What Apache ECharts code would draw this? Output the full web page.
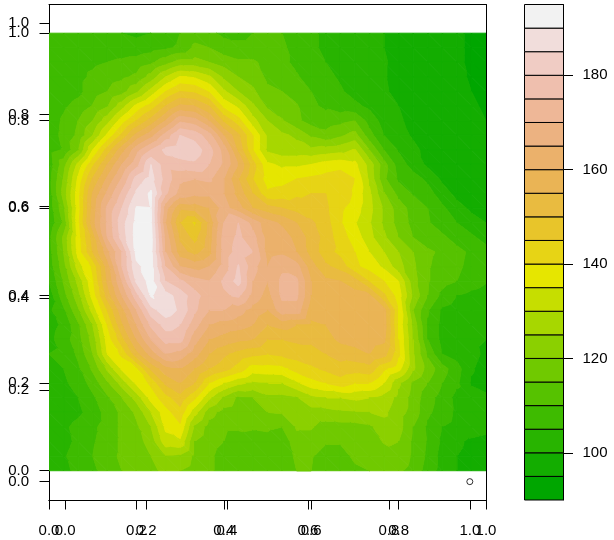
<!DOCTYPE html>
<html>
<head>
<meta charset="utf-8">
<style>html,body{margin:0;padding:0;background:#fff}#c{width:614px;height:540px}</style>
<script src="https://cdn.jsdelivr.net/npm/echarts@6/dist/echarts.min.js"></script>
</head>
<body>
<div id="c"></div>
<script>
// Height field: rows top (y=1) to bottom (y=0), columns x=0 to x=1.
const heightRows = [
[107,107,107,107,106,105,104,105,107,110,113,111,109,109,110,111,110,108,106,104,103,103,102,100,98,98,98,98,96,94,93],
[107,107,107,107,107,107,107,108,109,111,116,115,112,111,111,111,111,108,106,104,103,102,101,100,98,98,98,97,96,94,93],
[107,107,108,109,110,111,112,114,118,122,122,120,118,116,116,113,111,109,107,105,103.5,103,102,100.5,98.5,98,97,97,96,94,93],
[107,107,108.5,111,113,114,116,122,130,135.5,134.5,131,124,120,118,114,113,110.5,108,106,104.5,103,102,100.5,98,97,96.5,96,96,94.5,93],
[106.5,106.5,108.5,113,115,118,124,132,140,145,144,139.5,131,125,121,116,115,113,110,108,105.5,103.5,102.5,101,98,97,96.5,96,96,95,93.5],
[106,109,112,115.3,119.5,128,136.5,142,150,156,155,150,138.5,134,126,119,117.5,115.5,111,109,107,106,104,102,100,98.5,97.5,97,96.5,96,94],
[106.5,111,115,120,128,137.5,145,152,160,169,167,160,149,142,132,125,120.5,116,113,112.5,113.5,115,108,103,100.5,99,98,97,96.5,96,95],
[107,111.5,116,125,136,146,156.5,163,172,180,178,172,160,151,140,129,126,124,119,116.5,119,122,112,105,101.5,99.5,98.5,97.5,97,96.5,95.5],
[108,110.5,119.5,135,147,158,168,175,181.5,183,183,177,168,154,140,129,127,127,126,127,128,130.5,120,110,104.5,101,98.8,98,97.5,97,96],
[107,118,131.5,144,155,165,173,185,177,178,179,175,169,160,147,136,134,134,135,137,138,136.5,128,117,107.5,103,99,98,97.5,96.5,96],
[108,120.5,136,150.5,161,170.5,182,187,178,171,170,171,165,155,145,137.5,138,140,141,142,143,140,129,116,109,107,104,99,98,97,96.5],
[107.5,122,138,155.5,166,176,186,191,176,168,166,166,165,158,150,141,142,144,145,145,144,139,131,120.5,113.5,109.5,107,102.5,98.5,97,97],
[107,118.5,137.5,157,171,180,190.5,190.2,167,156,157,160,167,162,155,152,150,148,147,146,141,137.5,131.5,124,117.5,113,110,106,102,99,98],
[106,116,138.5,158,171,183,191.5,191,165,150,144,156,170,175,168,162,159,155,151,147,140.5,135.5,130.5,124,118,113.5,110.5,107.5,105,102,100],
[108.5,121,137.5,152,170,182,192,192,168,154,148,157,172,176,172,163,163,158,153,148,142,138,131.5,126,120,115,112,111,108,106,103],
[108,120,137,150,163,175,191.5,191.5,170,157,153,158,172,177,175,163,164,160,153,147,143.5,140,135,130,125,120,116,114,111.5,109,107],
[107,118,132.5,141,157,175,189,192,175,165,163,165,172,180.5,172,165,169,167,157,151,148,141,138,134,127,121,115.5,113,111,108.5,106.5],
[105,115.5,126.5,139,155.5,170,186,192,180,176,172,170,176,182,170,165,171,171,160,156,155,152,144.5,140,135,122,115.5,112,110,107.5,105.5],
[102,113,123,137,152,165,178,190.5,187,183,177,172,174,176,168,163,171,171,160,156,157,157,156,146,137.5,124,115,108.5,105,103.5,102.5],
[104,109,119,132,145,158,170,183,188,184,176,170,170,167,163,160,168,168,157,156,157,157,157,157,140,120,110.5,104,102.5,102,101.5],
[103,106,114,125,140,154,165,176,182,180,172,165,163,162,160,155,157,155,154,155,158,158,158,157.5,139,123.5,109.5,103.5,101.5,101,100.5],
[103.5,107.5,113,122,137,148,160,170,177,177,167,160,158,156,155,150,150,151,151,153,156,157,157,156,140,125,110,103.5,101.5,101,100],
[105,106,111,120,135,141,153,162,170,168,162,155,151,148,146,145,146,147,148,150,152,153,155,152,141,125.5,114,105,103,101.5,99],
[104,105,109,116,126,136,139,151,158,160,155,150,147,143,137.5,138,138.5,142,144,146,148,147,148,141,137,126,118,112,107,100.5,98],
[102.5,104,107,112,119,127,136,141,151,155,150,140,135,131,129,130,130,134,138,140,142.5,140,140,135,126,119,115,110,106,99.5,98],
[102,103,105,109,114,120,127,137,143,148,141,131,124,119,120,123.5,123.5,124.5,128.5,130,130,131,130,128,123.5,118,112,108,103.5,102,101],
[101,102,104,107,112,116,121,130,138,143,132,122,118,117,117,120,120.5,122,123,123,124,124.5,125,126,122,118,111,107.5,104,103,102],
[102,104,106.5,109,112,116,119,125,136,139,124,118,116,116,115.5,116,115,120.5,120.5,118,118,118,119,123,122,115,109,105,103.5,103,102],
[101.5,103.5,106,109.5,112,116,118,122,133,134,120,117,115,112,113,113,111,118.5,118,115.5,115.5,117,117,120.5,120,114,109.5,104,101,99,98],
[103,104.5,107,110,113,116,118,120,125,124,119,116,113,111,112,111,110,116.5,115.5,113,113,116,116,117,119,114,109,103,100,98.5,98],
[101.5,104,106,109,112,115,117,119,121,120,118,116,113,111,112,110,111,115,115,111,111,114,115,115.5,116,113,108,103,100,98.5,98]
];
const levels = [90,95,100,105,110,115,120,125,130,135,140,145,150,155,160,165,170,175,180,185,190,195];
const legendTicks = [100,120,140,160,180];
const xTicks = [0,0.2,0.4,0.6,0.8,1];
const yTicks = [0,0.2,0.4,0.6,0.8,1];
const pointX = [1];
const pointY = [0];

function hsv(h,s,v){
  const i=Math.floor(h*6)%6,f=h*6-Math.floor(h*6),p=v*(1-s),q=v*(1-f*s),t=v*(1-(1-f)*s);
  const c=[[v,t,p],[q,v,p],[p,v,t],[p,q,v],[t,p,v],[v,p,q]][i];
  return '#'+c.map(x=>Math.round(x*255).toString(16).padStart(2,'0')).join('');
}
// R terrain.colors(21)
function terrain(n){
  const k=Math.floor(n/2),out=[];
  for(let i=0;i<k;i++){const t=i/(k-1);out.push(hsv((4-2*t)/12,1,0.65+0.25*t));}
  const m=n-k+1;
  for(let i=1;i<m;i++){const t=i/(m-1);out.push(hsv((2-2*t)/12,1-t,0.9+0.05*t));}
  return out;
}
const bandColors = terrain(levels.length-1);

const nRows = heightRows.length, nCols = heightRows[0].length;
const cells = [];
for(let j=0;j<nRows-1;j++) for(let i=0;i<nCols-1;i++) cells.push([i,j]);

function clip(poly,lim,keepAbove){
  const out=[];
  for(let a=0;a<poly.length;a++){
    const p=poly[a],q=poly[(a+1)%poly.length];
    const pin=keepAbove?p[2]>=lim:p[2]<=lim, qin=keepAbove?q[2]>=lim:q[2]<=lim;
    if(pin) out.push(p);
    if(pin!==qin){
      const t=(lim-p[2])/(q[2]-p[2]);
      out.push([p[0]+t*(q[0]-p[0]),p[1]+t*(q[1]-p[1]),lim]);
    }
  }
  return out;
}
function renderCell(params,api){
  const i=api.value(0),j=api.value(1);
  const node=(a,b)=>[a/(nCols-1),1-b/(nRows-1),heightRows[b][a]];
  const A=node(i,j),B=node(i+1,j),C=node(i+1,j+1),D=node(i,j+1);
  const children=[];
  [[A,B,C],[A,C,D]].forEach(tri=>{
    const vs=tri.map(p=>p[2]);
    const lo=Math.min(...vs),hi=Math.max(...vs);
    for(let b=0;b<bandColors.length;b++){
      if(levels[b+1]<lo||levels[b]>hi) continue;
      let poly=clip(tri,levels[b],true);
      if(poly.length) poly=clip(poly,levels[b+1],false);
      if(poly.length<3) continue;
      children.push({type:'polygon',shape:{points:poly.map(p=>api.coord([p[0],p[1]]))},
        style:{fill:bandColors[b],stroke:bandColors[b],lineWidth:1,lineJoin:'bevel'}});
    }
  });
  return {type:'group',children};
}
function renderBand(params,api){
  const b=api.value(0);
  const p0=api.coord([0,levels[b+1]]),p1=api.coord([1,levels[b]]);
  return {type:'rect',shape:{x:p0[0],y:p0[1],width:p1[0]-p0[0],height:p1[1]-p0[1]},
    style:{fill:bandColors[b],stroke:'#000',lineWidth:1}};
}

const FONT={fontFamily:'"Liberation Sans",Arial,sans-serif',fontSize:15,color:'#000'};
const line={show:true,onZero:false,lineStyle:{color:'#000',width:1}};
const tick=(vals)=>({show:true,length:9.5,customValues:vals,lineStyle:{color:'#000',width:1}});
const xAx=(min,max)=>({type:'value',gridIndex:0,position:'bottom',min,max,axisLine:line,axisTick:tick(xTicks),
  axisLabel:{...FONT,margin:23,customValues:xTicks,formatter:v=>v.toFixed(1)},splitLine:{show:false}});
const yAx=(min,max)=>({type:'value',gridIndex:0,position:'left',min,max,axisLine:line,axisTick:tick(yTicks),
  axisLabel:{...FONT,margin:20,customValues:yTicks,formatter:v=>v.toFixed(1)},splitLine:{show:false}});

const yAMin=-0.0669,yAMax=1.0656;
const option={
  animation:false,
  backgroundColor:'#fff',
  grid:[
    {left:49,top:4.5,width:437,height:495.5},
    {left:524.5,top:4.5,width:39,height:495.5}
  ],
  xAxis:[
    xAx(0,1),
    xAx(-0.04,1.04),
    {type:'value',gridIndex:0,position:'top',min:0,max:1,axisLine:line,axisTick:{show:false},axisLabel:{show:false},splitLine:{show:false}},
    {type:'value',gridIndex:1,min:0,max:1,show:false}
  ],
  yAxis:[
    yAx(yAMin,yAMax),
    yAx(-0.04,1.04),
    {type:'value',gridIndex:0,position:'right',min:yAMin,max:yAMax,axisLine:line,axisTick:{show:false},axisLabel:{show:false},splitLine:{show:false}},
    {type:'value',gridIndex:1,position:'right',min:90,max:195,axisLine:line,
      axisTick:tick(legendTicks),
      axisLabel:{...FONT,margin:19,customValues:legendTicks},splitLine:{show:false}}
  ],
  series:[
    {type:'custom',name:'height',xAxisIndex:0,yAxisIndex:0,renderItem:renderCell,data:cells,clip:true,silent:true,progressive:0,encode:{x:[],y:[]}},
    {type:'scatter',name:'point',xAxisIndex:1,yAxisIndex:1,data:pointX.map((x,i)=>[x,pointY[i]]),symbol:'circle',symbolSize:6,
      itemStyle:{color:'rgba(255,255,255,0)',borderColor:'#000',borderWidth:1},silent:true,z:5},
    {type:'custom',name:'legend',xAxisIndex:3,yAxisIndex:3,renderItem:renderBand,data:bandColors.map((c,i)=>[i]),silent:true,progressive:0,encode:{x:[],y:[]}}
  ]
};
const chart=echarts.init(document.getElementById('c'),null,{renderer:'canvas'});
chart.setOption(option);
</script>
</body>
</html>
